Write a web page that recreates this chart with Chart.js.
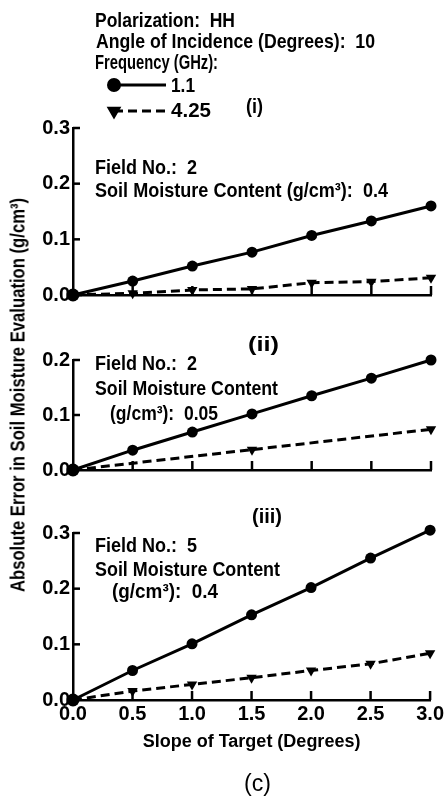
<!DOCTYPE html>
<html>
<head>
<meta charset="utf-8">
<script src="https://cdn.jsdelivr.net/npm/chart.js@4.4.1/dist/chart.umd.min.js"></script>
<style>
  html, body { margin: 0; padding: 0; background: #fff; }
  #wrap { position: relative; width: 446px; height: 800px; overflow: hidden; }
  #wrap canvas { position: absolute; left: 0; }
  #yTitle {
    position: absolute; left: 17px; top: 395px; white-space: nowrap;
    font: bold 21px "Liberation Sans", sans-serif; color: #000; line-height: 1;
  }
</style>
</head>
<body>
<div id="wrap">
  <canvas id="panel1" width="446" height="310" style="top:0"></canvas>
  <canvas id="panel2" width="446" height="175" style="top:310px"></canvas>
  <canvas id="panel3" width="446" height="315" style="top:485px"></canvas>
  <div id="yTitle">Absolute Error in Soil Moisture Evaluation (g/cm³)</div>
</div>
<script>
// slope of target (degrees) and frequencies (GHz)
const slopes = [0, 0.5, 1.0, 1.5, 2.0, 2.5, 3.0];
const freqLabels = ['1.1', '4.25'];

// (i) field 2, 0.4 g/cm3
const err11_i = [0, 0.025, 0.052, 0.077, 0.107, 0.133, 0.160];
const err425_i = [0, 0.003, 0.009, 0.011, 0.022, 0.024, 0.031];
// (ii) field 2, 0.05 g/cm3 - 4.25 GHz only marked at three slopes
const err11_ii = [0, 0.036, 0.069, 0.102, 0.135, 0.167, 0.200];
const slopes425_ii = [0, 1.5, 3.0];
const err425_ii = [0, 0.037, 0.074];
// (iii) field 5, 0.4 g/cm3
const err11_iii = [0, 0.053, 0.101, 0.153, 0.202, 0.255, 0.305];
const err425_iii = [0, 0.016, 0.028, 0.040, 0.053, 0.065, 0.084];

const yMax_i = 0.3, yMax_ii = 0.2, yMax_iii = 0.3;

const FONT = '"Liberation Sans", Arial, sans-serif';
const textFont = 'bold 21px ' + FONT;

function toXY(xs, ys) {
  return xs.map((x, i) => ({ x: x, y: ys[i] }));
}

// draw text squeezed to a given width (condensed look)
function fitText(ctx, text, x, y, width) {
  const w = ctx.measureText(text).width;
  ctx.save();
  ctx.translate(x, y);
  ctx.scale(width / w, 1);
  ctx.fillText(text, 0, 0);
  ctx.restore();
}

function drawLegend(chart, ctx) {
  const items = [
    { y: 85, ty: 92, tw: 24, ds: chart.data.datasets[0] },
    { y: 111, ty: 117, tw: 40, ds: chart.data.datasets[1] }
  ];
  items.forEach((it, i) => {
    ctx.save();
    ctx.strokeStyle = '#000';
    ctx.lineWidth = 3;
    ctx.setLineDash(it.ds.borderDash || []);
    ctx.beginPath();
    ctx.moveTo(114, it.y);
    ctx.lineTo(166, it.y);
    ctx.stroke();
    ctx.setLineDash([]);
    ctx.fillStyle = '#000';
    Chart.helpers.drawPoint(ctx, {
      pointStyle: it.ds.pointStyle, rotation: it.ds.rotation || 0,
      radius: 5.5, borderWidth: 1
    }, 114, it.y);
    ctx.font = textFont;
    fitText(ctx, freqLabels[i], 171, it.ty, it.tw);
    ctx.restore();
  });
}

const decor = {
  id: 'decor',
  afterDraw(chart, args, opts) {
    const { ctx, chartArea } = chart;
    const xs = chart.scales.x, ys = chart.scales.y;
    ctx.save();
    ctx.strokeStyle = '#000';
    ctx.lineWidth = 2.5;
    // inward tick marks on both axes
    ys.ticks.forEach(t => {
      if (t.value <= 0) return;
      const py = ys.getPixelForValue(t.value);
      ctx.beginPath();
      ctx.moveTo(chartArea.left, py);
      ctx.lineTo(chartArea.left + 7, py);
      ctx.stroke();
    });
    slopes.forEach(s => {
      if (s <= 0) return;
      const px = xs.getPixelForValue(s);
      ctx.beginPath();
      ctx.moveTo(px, chartArea.bottom);
      ctx.lineTo(px, chartArea.bottom - 9);
      ctx.stroke();
    });
    ctx.fillStyle = '#000';
    ctx.textBaseline = 'alphabetic';
    (opts.notes || []).forEach(n => {
      ctx.font = n.font || textFont;
      fitText(ctx, n.text, n.x, n.y, n.w);
    });
    if (opts.legend) drawLegend(chart, ctx);
    ctx.restore();
  }
};

function makePanel(id, cfg) {
  const tickFont = { family: FONT, size: 20, weight: 'bold' };
  return new Chart(document.getElementById(id), {
    type: 'line',
    data: {
      datasets: [{
        label: freqLabels[0],
        data: cfg.solid,
        borderColor: '#000',
        backgroundColor: '#000',
        borderWidth: 3,
        pointStyle: 'circle',
        pointRadius: ctx => ctx.dataIndex === 0 ? 6.5 : 5.5,
        pointBorderWidth: 0,
        clip: false,
        order: 0
      }, {
        label: freqLabels[1],
        data: cfg.dashed,
        borderColor: '#000',
        backgroundColor: '#000',
        borderWidth: 3,
        borderDash: [9, 5],
        pointStyle: 'triangle',
        rotation: 180,
        pointRadius: 6,
        pointBorderWidth: 0,
        clip: false,
        order: 1
      }]
    },
    options: {
      responsive: false,
      animation: false,
      layout: { padding: { top: cfg.top, right: 15, left: 0, bottom: 0 } },
      plugins: {
        legend: { display: false },
        tooltip: { enabled: false },
        decor: { notes: cfg.notes, legend: cfg.legend }
      },
      scales: {
        x: {
          type: 'linear', min: 0, max: 3,
          afterFit: s => { s.height = cfg.xHeight; },
          grid: { display: false, drawTicks: false },
          border: { display: true, color: '#000', width: 2.5 },
          ticks: {
            display: !!cfg.xLabels, stepSize: 0.5, color: '#000', padding: 2,
            maxRotation: 0, font: tickFont,
            callback: v => Number(v).toFixed(1)
          },
          title: {
            display: !!cfg.xLabels,
            text: 'Slope of Target (Degrees)',
            color: '#000',
            font: { family: FONT, size: 18, weight: 'bold' },
            padding: { top: 0, bottom: 47 }
          }
        },
        y: {
          min: 0, max: cfg.yMax,
          afterFit: s => { s.width = 73; },
          grid: { display: false, drawTicks: false },
          border: { display: true, color: '#000', width: 2.5 },
          ticks: {
            stepSize: 0.1, color: '#000', padding: 3, font: tickFont,
            callback: v => Number(v).toFixed(1)
          }
        }
      }
    },
    plugins: [decor]
  });
}

makePanel('panel1', {
  top: 128, xHeight: 12, yMax: yMax_i, legend: true,
  solid: toXY(slopes, err11_i),
  dashed: toXY(slopes, err425_i),
  notes: [
    { text: 'Polarization:  HH', x: 95, y: 27, w: 140 },
    { text: 'Angle of Incidence (Degrees):  10', x: 96, y: 48, w: 279 },
    { text: 'Frequency (GHz):', x: 95, y: 69, w: 123 },
    { text: '(i)', x: 246, y: 113, w: 17 },
    { text: 'Field No.:  2', x: 95, y: 174, w: 102 },
    { text: 'Soil Moisture Content (g/cm³):  0.4', x: 95, y: 197, w: 293 }
  ]
});

makePanel('panel2', {
  top: 50, xHeight: 12, yMax: yMax_ii,
  solid: toXY(slopes, err11_ii),
  dashed: toXY(slopes425_ii, err425_ii),
  notes: [
    { text: '(ii)', x: 248, y: 41, w: 31 },
    { text: 'Field No.:  2', x: 95, y: 60, w: 102 },
    { text: 'Soil Moisture Content', x: 95, y: 85, w: 183 },
    { text: '(g/cm³):  0.05', x: 110, y: 110, w: 108 }
  ]
});

makePanel('panel3', {
  top: 48, xHeight: 100, yMax: yMax_iii, xLabels: true,
  solid: toXY(slopes, err11_iii),
  dashed: toXY(slopes, err425_iii),
  notes: [
    { text: '(iii)', x: 252, y: 38, w: 30 },
    { text: 'Field No.:  5', x: 95, y: 67, w: 102 },
    { text: 'Soil Moisture Content', x: 95, y: 91, w: 185 },
    { text: '(g/cm³):  0.4', x: 112, y: 113, w: 106 },
    { text: '(c)', x: 244, y: 306, w: 27, font: '23px ' + FONT }
  ]
});

// rotated axis title shared by the three panels
const yt = document.getElementById('yTitle');
const k = 394 / yt.offsetWidth;
yt.style.transform = 'translate(-50%, -50%) rotate(-90deg) scaleX(' + k + ')';
</script>
</body>
</html>
